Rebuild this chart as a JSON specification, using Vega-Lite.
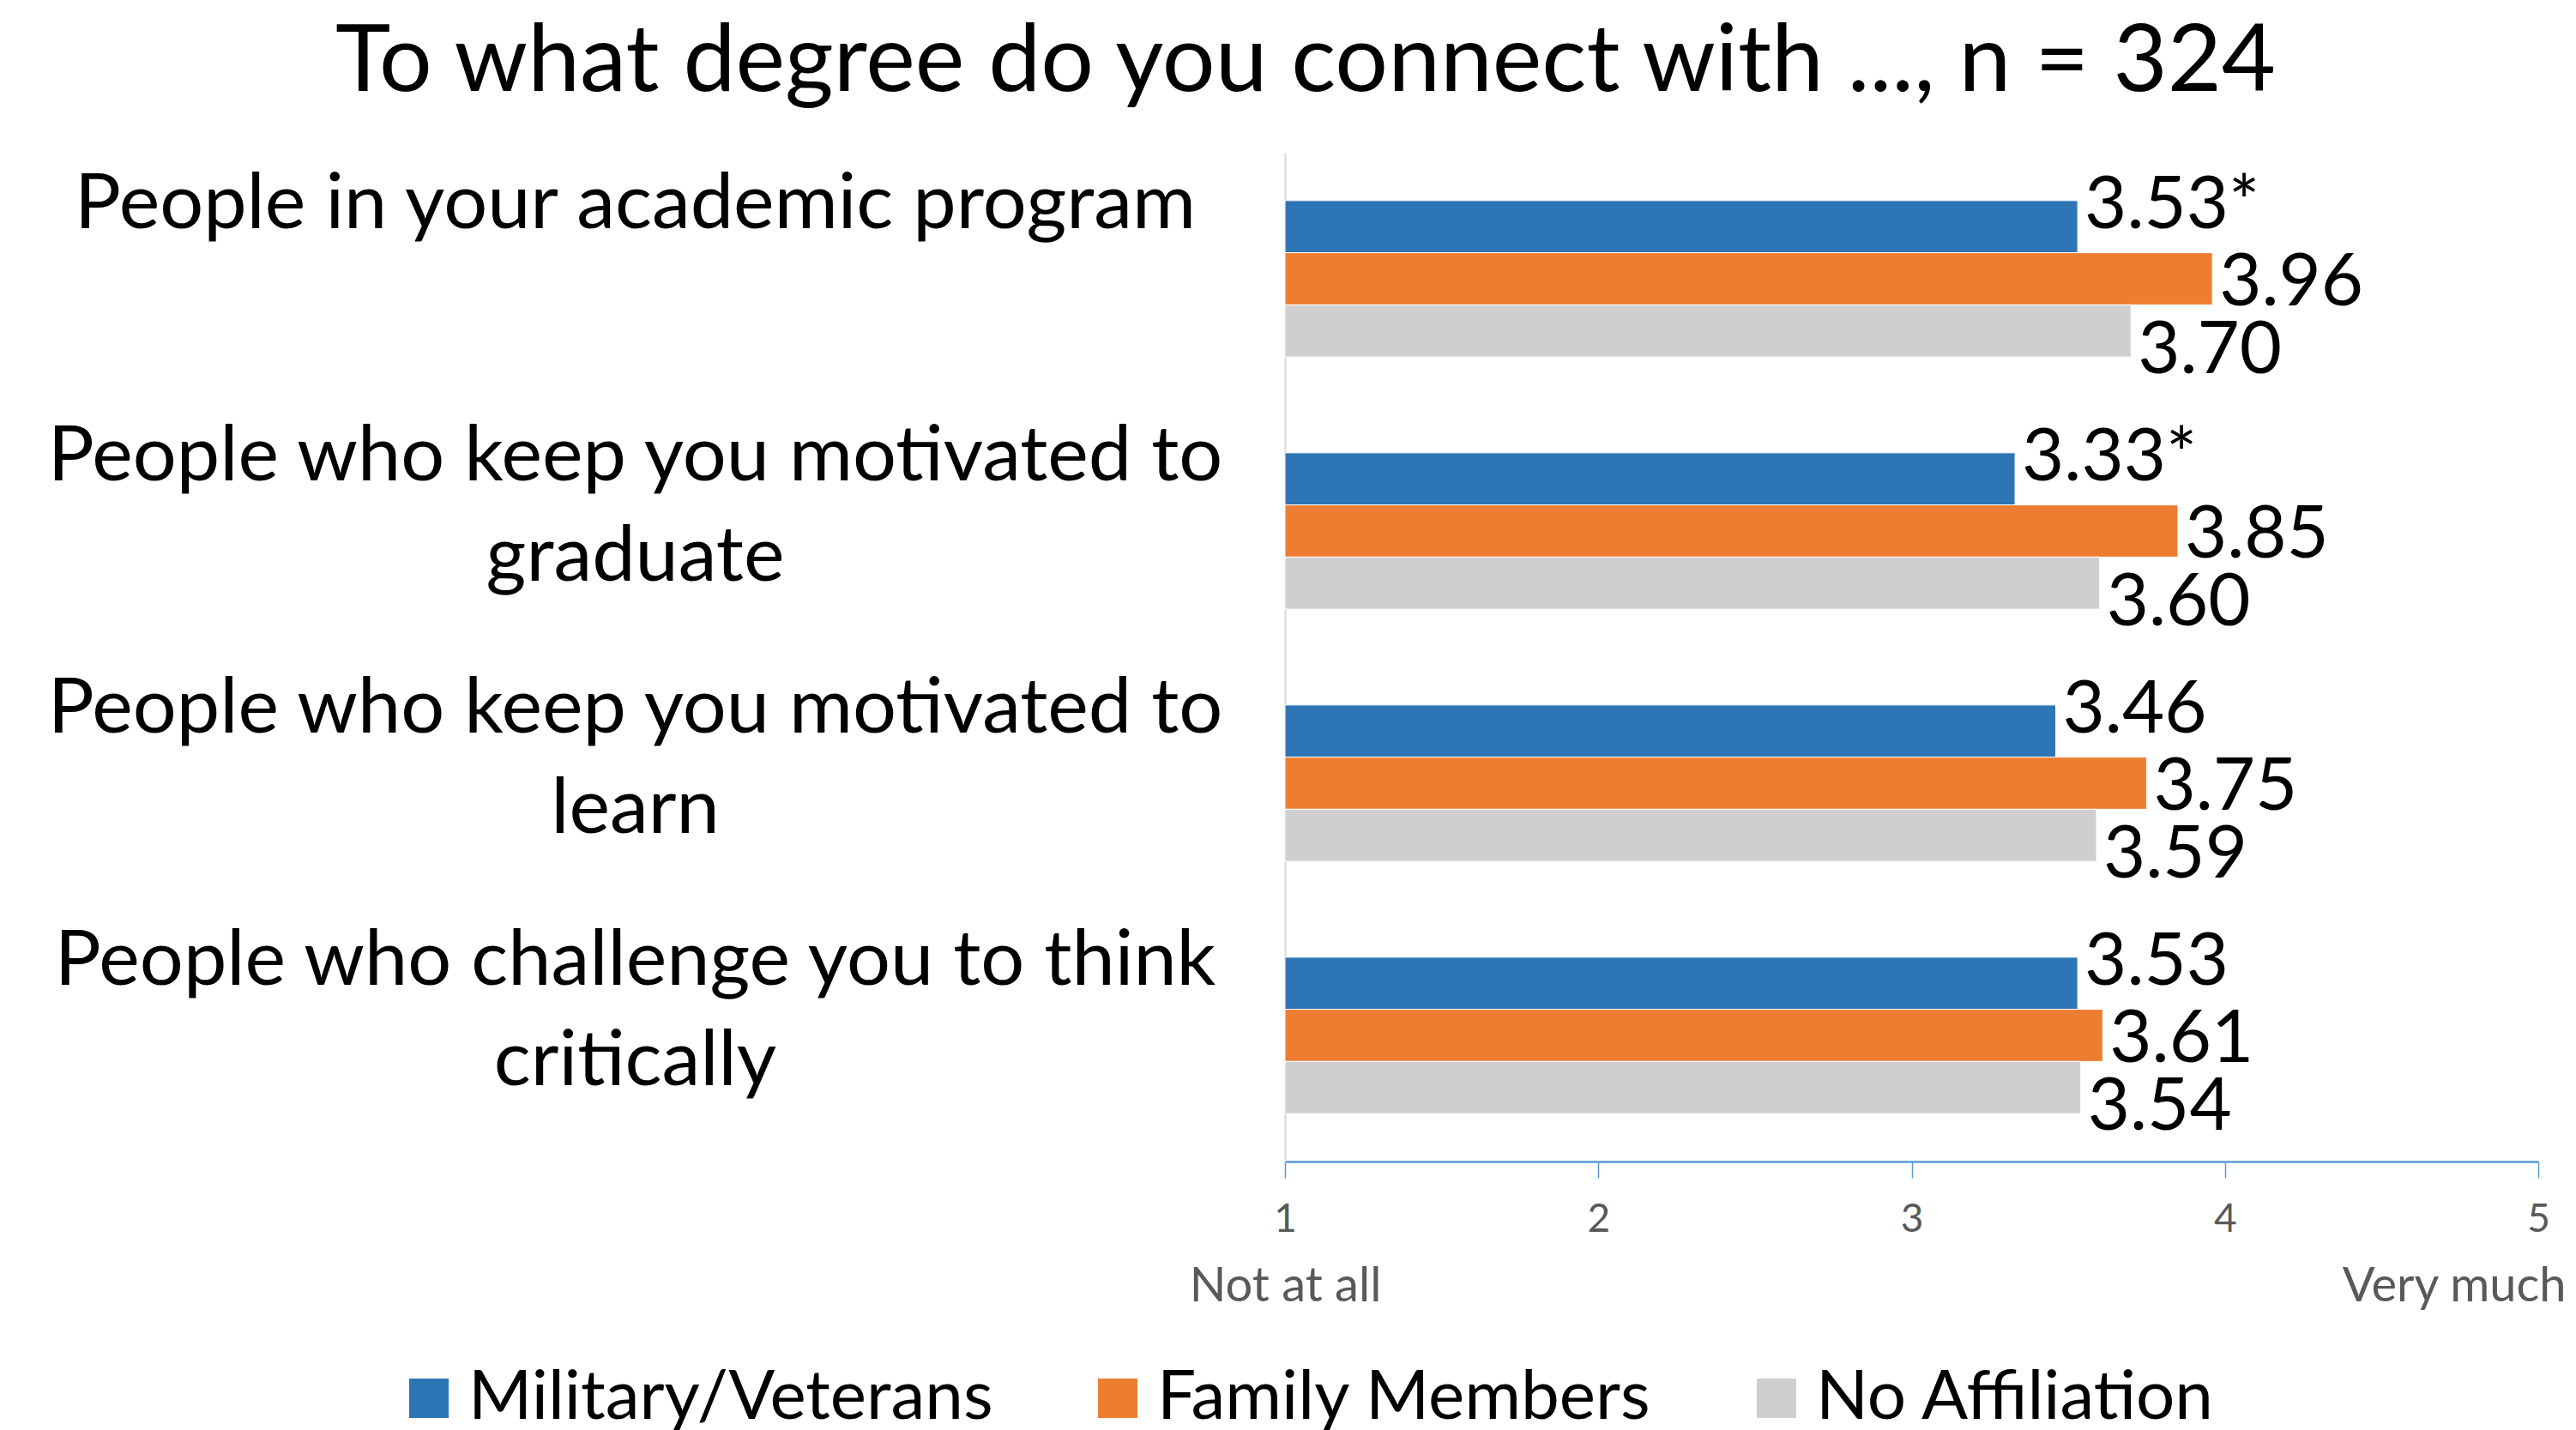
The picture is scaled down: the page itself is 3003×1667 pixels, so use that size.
{
  "$schema": "https://vega.github.io/schema/vega-lite/v6.json",
  "width": 1461,
  "height": 1176,
  "autosize": "none",
  "padding": {"left": 1498, "top": 178, "right": 44, "bottom": 313},
  "background": "white",
  "title": {
    "text": "To what degree do you connect with ..., n = 324",
    "font": "Lato",
    "fontSize": 109,
    "fontWeight": "normal",
    "color": "black",
    "anchor": "middle",
    "frame": "bounds",
    "baseline": "alphabetic",
    "offset": -37
  },
  "data": {
    "values": [
      {"item": "People in your academic program", "group": "Military/Veterans", "value": 3.53, "label": "3.53*"},
      {"item": "People in your academic program", "group": "Family Members", "value": 3.96, "label": "3.96"},
      {"item": "People in your academic program", "group": "No Affiliation", "value": 3.70, "label": "3.70"},
      {"item": "People who keep you motivated to|graduate", "group": "Military/Veterans", "value": 3.33, "label": "3.33*"},
      {"item": "People who keep you motivated to|graduate", "group": "Family Members", "value": 3.85, "label": "3.85"},
      {"item": "People who keep you motivated to|graduate", "group": "No Affiliation", "value": 3.60, "label": "3.60"},
      {"item": "People who keep you motivated to|learn", "group": "Military/Veterans", "value": 3.46, "label": "3.46"},
      {"item": "People who keep you motivated to|learn", "group": "Family Members", "value": 3.75, "label": "3.75"},
      {"item": "People who keep you motivated to|learn", "group": "No Affiliation", "value": 3.59, "label": "3.59"},
      {"item": "People who challenge you to think|critically", "group": "Military/Veterans", "value": 3.53, "label": "3.53"},
      {"item": "People who challenge you to think|critically", "group": "Family Members", "value": 3.61, "label": "3.61"},
      {"item": "People who challenge you to think|critically", "group": "No Affiliation", "value": 3.54, "label": "3.54"}
    ]
  },
  "encoding": {
    "y": {
      "field": "item",
      "type": "nominal",
      "sort": [
        "People in your academic program",
        "People who keep you motivated to|graduate",
        "People who keep you motivated to|learn",
        "People who challenge you to think|critically"
      ],
      "scale": {"paddingInner": 0.38, "paddingOuter": 0.19},
      "axis": {
        "title": null,
        "domainColor": "#D9D9D9",
        "domainWidth": 2,
        "ticks": false,
        "tickSize": 0,
        "grid": false,
        "labelExpr": "split(datum.label, '|')",
        "labelAlign": "center",
        "labelBaseline": "middle",
        "labelPadding": 758,
        "labelFont": "Lato",
        "labelFontSize": 90,
        "labelColor": "black",
        "labelLineHeight": 117,
        "labelLimit": 0,
        "labelOffset": -86
      }
    },
    "yOffset": {
      "field": "group",
      "type": "nominal",
      "sort": ["Military/Veterans", "Family Members", "No Affiliation"]
    }
  },
  "layer": [
    {
      "mark": {"type": "bar", "stroke": "white", "strokeWidth": 1},
      "encoding": {
        "x": {
          "field": "value",
          "type": "quantitative",
          "stack": null,
          "scale": {"domain": [1, 5], "zero": false, "nice": false},
          "axis": {
            "orient": "bottom",
            "title": null,
            "values": [1, 2, 3, 4, 5],
            "format": "d",
            "grid": false,
            "domainColor": "#5B9BD5",
            "domainWidth": 2.5,
            "tickColor": "#5B9BD5",
            "tickWidth": 1.5,
            "tickSize": 19,
            "labelFlush": false,
            "labelFont": "Lato",
            "labelFontSize": 46,
            "labelColor": "#595959",
            "labelPadding": 26
          }
        },
        "x2": {"datum": 1},
        "color": {
          "field": "group",
          "type": "nominal",
          "scale": {
            "domain": ["Military/Veterans", "Family Members", "No Affiliation"],
            "range": ["#2E75B6", "#ED7D31", "#D0CECE"]
          },
          "legend": {
            "title": null,
            "orient": "none",
            "legendX": -1038,
            "legendY": 1412,
            "direction": "horizontal",
            "columns": 3,
            "symbolType": "square",
            "symbolSize": 2116,
            "symbolStrokeWidth": 0,
            "labelFont": "Lato",
            "labelFontSize": 80,
            "labelColor": "black",
            "labelLimit": 0,
            "labelOffset": 6,
            "columnPadding": 105
          }
        }
      }
    },
    {
      "transform": [{"filter": "datum.group == 'Military/Veterans'"}],
      "mark": {"type": "text", "align": "left", "baseline": "middle", "dx": 8, "dy": -24, "font": "Lato", "fontSize": 85, "color": "black"},
      "encoding": {
        "x": {
          "field": "value",
          "type": "quantitative",
          "axis": {
            "orient": "bottom",
            "title": null,
            "values": [1, 5],
            "grid": false,
            "domain": false,
            "ticks": false,
            "labelFlush": false,
            "labelOverlap": false,
            "labelLimit": 0,
            "labelExpr": "datum.value == 1 ? 'Not at all' : 'Very much'",
            "labelAlign": {"condition": {"test": "datum.value == 5", "value": "right"}, "value": "center"},
            "labelOffset": {"condition": {"test": "datum.value == 5", "value": 32}, "value": 0},
            "labelPadding": 118,
            "labelFont": "Lato",
            "labelFontSize": 56,
            "labelColor": "#595959"
          }
        },
        "text": {"field": "label"}
      }
    },
    {
      "transform": [{"filter": "datum.group == 'Family Members'"}],
      "mark": {"type": "text", "align": "left", "baseline": "middle", "dx": 8, "dy": 5, "font": "Lato", "fontSize": 85, "color": "black"},
      "encoding": {
        "x": {"field": "value", "type": "quantitative", "axis": null},
        "text": {"field": "label"}
      }
    },
    {
      "transform": [{"filter": "datum.group == 'No Affiliation'"}],
      "mark": {"type": "text", "align": "left", "baseline": "middle", "dx": 8, "dy": 23, "font": "Lato", "fontSize": 85, "color": "black"},
      "encoding": {
        "x": {"field": "value", "type": "quantitative", "axis": null},
        "text": {"field": "label"}
      }
    }
  ],
  "resolve": {"axis": {"x": "independent"}},
  "config": {"view": {"stroke": null}}
}
